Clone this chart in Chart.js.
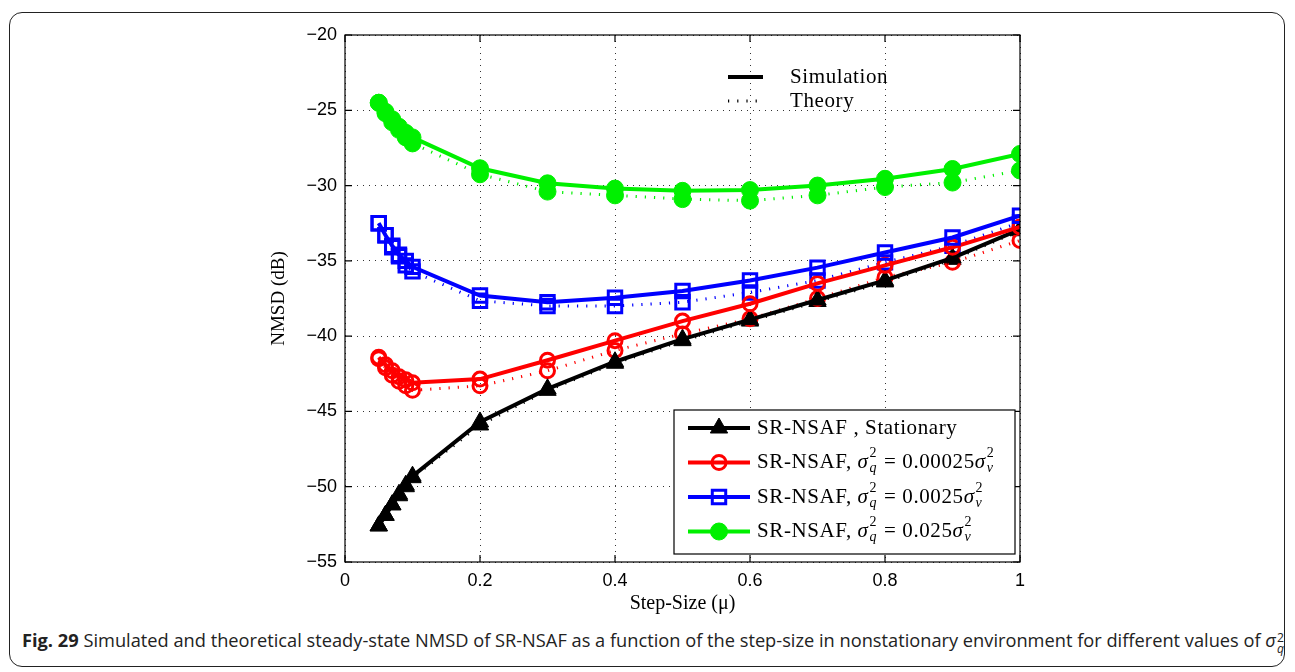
<!DOCTYPE html>
<html>
<head>
<meta charset="utf-8">
<script src="https://cdn.jsdelivr.net/npm/chart.js@4"></script>
<style>
  html, body { margin: 0; padding: 0; background: #fff; }
  body { width: 1295px; height: 672px; position: relative; overflow: hidden; }
  #frame {
    position: absolute; left: 9px; top: 12px; width: 1276px; height: 655px;
    border: 1.5px solid #222; border-radius: 13px; box-sizing: border-box;
  }
  #wrap { position: absolute; left: 0; top: 0; width: 1295px; height: 625px; }
  #caption {
    position: absolute; left: 22px; top: 628px; white-space: nowrap;
    font-family: "Open Sans", sans-serif; font-size: 18px; color: #222;
    transform-origin: left top;
  }
  #caption b { font-weight: 700; }
  #sq { display: inline-block; vertical-align: -6px; line-height: 11px; font-size: 12px; margin-left: 1px; }
  #sq span { display: block; }
</style>
</head>
<body>
<div id="frame"></div>
<div id="wrap"><canvas id="myChart" width="1295" height="625"></canvas></div>
<div id="caption"><b>Fig. 29</b> Simulated and theoretical steady-state NMSD of SR-NSAF as a function of the step-size in nonstationary environment for different values of <i>σ</i><span id="sq"><span>2</span><span><i>q</i></span></span></div>
<script>
// step sizes
const stepSize = [0.05, 0.06, 0.07, 0.08, 0.09, 0.1, 0.2, 0.3, 0.4, 0.5, 0.6, 0.7, 0.8, 0.9, 1.0];

// simulation (solid lines)
const simStationary = [-52.6, -51.9, -51.2, -50.5, -49.9, -49.3, -45.7, -43.5, -41.7, -40.2, -38.9, -37.6, -36.3, -34.8, -32.9];
const sim00025 = [-41.4, -41.9, -42.3, -42.7, -42.9, -43.1, -42.85, -41.6, -40.3, -39.0, -37.85, -36.5, -35.3, -34.1, -32.75];
const sim0025 = [-32.5, -33.3, -34.0, -34.6, -35.0, -35.4, -37.3, -37.75, -37.45, -37.0, -36.3, -35.45, -34.45, -33.45, -32.0];
const sim025 = [-24.5, -25.1, -25.6, -26.1, -26.5, -26.8, -28.85, -29.85, -30.2, -30.35, -30.3, -30.0, -29.55, -28.9, -27.9];

// theory (dotted lines)
const thStationary = [-52.6, -51.9, -51.2, -50.6, -50.0, -49.4, -45.9, -43.6, -41.8, -40.3, -39.0, -37.7, -36.4, -34.9, -33.0];
const th00025 = [-41.5, -42.1, -42.6, -43.0, -43.3, -43.6, -43.3, -42.3, -40.95, -39.85, -38.85, -37.5, -36.1, -35.1, -33.65];
const th0025 = [-32.5, -33.3, -34.1, -34.7, -35.3, -35.7, -37.65, -38.0, -38.0, -37.75, -37.1, -36.3, -35.1, -34.0, -32.45];
const th025 = [-24.5, -25.2, -25.8, -26.3, -26.8, -27.2, -29.25, -30.4, -30.65, -30.9, -31.0, -30.65, -30.1, -29.8, -29.0];

const xTicks = [0, 0.2, 0.4, 0.6, 0.8, 1];
const yTicks = [-55, -50, -45, -40, -35, -30, -25, -20];

const legendLabels = [
  { name: 'SR-NSAF , Stationary' },
  { name: 'SR-NSAF, ', value: ' = 0.00025' },
  { name: 'SR-NSAF, ', value: ' = 0.0025' },
  { name: 'SR-NSAF, ', value: ' = 0.025' }
];

const colors = ['#000000', '#ff0000', '#0000ff', '#00f000'];

function pts(ys) {
  return stepSize.map((x, i) => ({ x: x, y: ys[i] }));
}

const markerStyle = [
  { pointStyle: 'triangle', pointRadius: 10, fill: true, pw: 1 },
  { pointStyle: 'circle', pointRadius: 7, fill: false, pw: 3 },
  { pointStyle: 'rect', pointRadius: 9.5, fill: false, pw: 3 },
  { pointStyle: 'circle', pointRadius: 8.5, fill: true, pw: 1 }
];

function makeSet(ys, k, dotted, order) {
  const m = markerStyle[k];
  return {
    data: pts(ys),
    borderColor: colors[k],
    borderWidth: dotted ? 3 : 4,
    borderDash: dotted ? [1.2, 8] : [],
    pointStyle: m.pointStyle,
    pointRadius: m.pointRadius,
    pointBorderWidth: m.pw,
    pointBorderColor: colors[k],
    pointBackgroundColor: m.fill ? colors[k] : 'rgba(0,0,0,0)',
    fill: false,
    tension: 0,
    order: order
  };
}

const sims = [simStationary, sim00025, sim0025, sim025];
const ths = [thStationary, th00025, th0025, th025];
const datasets = [];
for (let k = 0; k < 4; k++) {
  datasets.push(makeSet(ths[k], k, true, 20 - k));
}
for (let k = 0; k < 4; k++) {
  datasets.push(makeSet(sims[k], k, false, 10 - k));
}

const serif = '"Liberation Serif", "DejaVu Serif", serif';
const legendSize = 21;

// draws text like  σ_q^2
function drawSigma(c, x, y, sub, size) {
  c.font = 'italic ' + size + 'px ' + serif;
  c.fillText('σ', x, y);
  x += c.measureText('σ').width + 1;
  c.font = Math.round(size * 0.68) + 'px ' + serif;
  c.fillText('2', x, y - size * 0.42);
  c.font = 'italic ' + Math.round(size * 0.68) + 'px ' + serif;
  c.fillText(sub, x, y + size * 0.3);
  return x + c.measureText(sub).width + 1;
}

function drawMarker(c, k, x, y) {
  const m = markerStyle[k];
  c.beginPath();
  if (m.pointStyle === 'circle') {
    c.arc(x, y, m.pointRadius, 0, Math.PI * 2);
  } else if (m.pointStyle === 'rect') {
    const h = m.pointRadius / Math.SQRT2;
    c.rect(x - h, y - h, 2 * h, 2 * h);
  } else {
    const r = m.pointRadius;
    c.moveTo(x, y - r);
    c.lineTo(x + r * 0.866, y + r * 0.5);
    c.lineTo(x - r * 0.866, y + r * 0.5);
    c.closePath();
  }
  c.lineWidth = m.pw;
  if (m.fill) c.fill();
  c.stroke();
}

const framePlugin = {
  id: 'framePlugin',
  afterDraw(chart) {
    const c = chart.ctx;
    const a = chart.chartArea;
    const xs = chart.scales.x, ys = chart.scales.y;
    c.save();
    // plot box and inward ticks
    c.strokeStyle = '#000';
    c.lineWidth = 1.2;
    c.setLineDash([]);
    c.strokeRect(a.left, a.top, a.right - a.left, a.bottom - a.top);
    c.beginPath();
    xTicks.forEach(v => {
      const px = xs.getPixelForValue(v);
      c.moveTo(px, a.bottom); c.lineTo(px, a.bottom - 7);
      c.moveTo(px, a.top); c.lineTo(px, a.top + 7);
    });
    yTicks.forEach(v => {
      const py = ys.getPixelForValue(v);
      c.moveTo(a.left, py); c.lineTo(a.left + 7, py);
      c.moveTo(a.right, py); c.lineTo(a.right - 7, py);
    });
    c.stroke();

    // top legend: Simulation / Theory
    c.textBaseline = 'middle';
    c.fillStyle = '#000';
    c.font = legendSize + 'px ' + serif;
    c.letterSpacing = '0.6px';
    let lx = a.left + 383, ly = a.top + 42;
    c.lineWidth = 4;
    c.beginPath(); c.moveTo(lx, ly); c.lineTo(lx + 35, ly); c.stroke();
    c.fillText('Simulation', lx + 62, ly);
    ly += 24;
    c.lineWidth = 3;
    c.setLineDash([1.2, 8]);
    c.beginPath(); c.moveTo(lx, ly); c.lineTo(lx + 35, ly); c.stroke();
    c.setLineDash([]);
    c.fillText('Theory', lx + 62, ly);

    // bottom-right legend box
    const bx = a.left + 329, by = a.top + 375, bw = 341, bh = 144;
    c.fillStyle = '#fff';
    c.fillRect(bx, by, bw, bh);
    c.lineWidth = 1.2;
    c.strokeStyle = '#000';
    c.strokeRect(bx, by, bw, bh);
    legendLabels.forEach((lab, k) => {
      const ry = by + 18 + k * 34.5;
      c.strokeStyle = colors[k];
      c.fillStyle = colors[k];
      c.lineWidth = 4;
      c.beginPath(); c.moveTo(bx + 14, ry); c.lineTo(bx + 76, ry); c.stroke();
      drawMarker(c, k, bx + 45, ry);
      c.fillStyle = '#000';
      c.font = legendSize + 'px ' + serif;
      let tx = bx + 83;
      c.fillText(lab.name, tx, ry);
      if (lab.value) {
        tx += c.measureText(lab.name).width;
        tx = drawSigma(c, tx, ry, 'q', legendSize);
        c.font = legendSize + 'px ' + serif;
        c.fillText(lab.value, tx, ry);
        tx += c.measureText(lab.value).width;
        drawSigma(c, tx, ry, 'v', legendSize);
      }
    });
    c.restore();
  }
};

const ctx = document.getElementById('myChart');

new Chart(ctx, {
  type: 'line',
  data: { datasets: datasets },
  options: {
    responsive: false,
    animation: false,
    devicePixelRatio: 1,
    layout: { padding: { left: 268, top: 35, right: 275, bottom: 9 } },
    plugins: { legend: { display: false }, tooltip: { enabled: false } },
    scales: {
      x: {
        type: 'linear',
        min: 0,
        max: 1,
        afterFit: s => { s.height = 54; },
        afterBuildTicks: s => { s.ticks = xTicks.map(v => ({ value: v })); },
        ticks: {
          color: '#000',
          padding: 8,
          font: { family: '"Liberation Sans", Arial, sans-serif', size: 18 },
          callback: v => String(v)
        },
        grid: { color: '#333', lineWidth: 1, drawTicks: false },
        border: { display: false, dash: [1, 5] },
        title: {
          display: true,
          text: 'Step-Size (μ)',
          color: '#000',
          padding: 0,
          font: { family: serif, size: 20 }
        }
      },
      y: {
        min: -55,
        max: -20,
        afterFit: s => { s.width = 77; },
        afterBuildTicks: s => { s.ticks = yTicks.map(v => ({ value: v })); },
        ticks: {
          color: '#000',
          padding: 8,
          font: { family: '"Liberation Sans", Arial, sans-serif', size: 18 },
          callback: v => String(v).replace('-', '\u2212')
        },
        grid: { color: '#333', lineWidth: 1, drawTicks: false },
        border: { display: false, dash: [1, 5] },
        title: {
          display: true,
          text: 'NMSD (dB)',
          color: '#000',
          padding: 0,
          font: { family: serif, size: 19 }
        }
      }
    }
  },
  plugins: [framePlugin]
});

// fit the caption to the frame width
const cap = document.getElementById('caption');
const w = cap.getBoundingClientRect().width;
cap.style.transform = 'scaleX(' + (1262 / w) + ')';
</script>
</body>
</html>
